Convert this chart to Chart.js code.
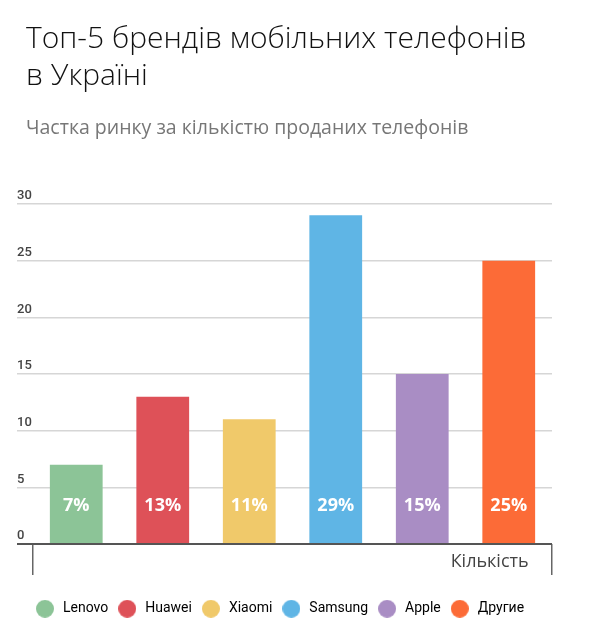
<!DOCTYPE html>
<html>
<head>
<meta charset="utf-8">
<script src="https://cdn.jsdelivr.net/npm/chart.js@4"></script>
<style>
  html, body { margin: 0; padding: 0; background: #fff; }
  #wrap { width: 600px; height: 634px; }
</style>
</head>
<body>
<div id="wrap"><canvas id="brandsChart"></canvas></div>
<script>
// data
const brands = ['Lenovo', 'Huawei', 'Xiaomi', 'Samsung', 'Apple', 'Другие'];
const shares = [7, 13, 11, 29, 15, 25];
const barColors = ['#8cc497', '#de5158', '#f0c96a', '#5fb5e5', '#a98dc4', '#fc6b37'];
const yTicks = [0, 5, 10, 15, 20, 25, 30];

// round legend markers (drawn as small canvases so the gap to the text can be set)
const legendDots = barColors.map(col => {
  const c = document.createElement('canvas');
  c.width = 18;
  c.height = 18;
  const g = c.getContext('2d');
  g.fillStyle = col;
  g.beginPath();
  g.arc(9, 9, 9, 0, Math.PI * 2);
  g.fill();
  return c;
});

//plugin that writes the % value inside each bar, near the bottom
const barValueLabels = {
  id: 'barValueLabels',
  afterDatasetsDraw(chart) {
    const {ctx} = chart;
    const yScale = chart.scales.y;
    const baseY = yScale.getPixelForValue(yTicks[0]) - 38;
    chart.getDatasetMeta(0).data.forEach((bar, i) => {
      ctx.save();
      ctx.fillStyle = '#ffffff';
      ctx.font = 'bold 18px "Open Sans"';
      ctx.textAlign = 'center';
      ctx.textBaseline = 'middle';
      ctx.fillText(shares[i] + '%', bar.x, baseY);
      ctx.restore();
    });
  }
};

// y labels sit a bit left of the titles
const shiftYLabels = {
  id: 'shiftYLabels',
  afterLayout(chart) {
    chart.scales.y.left = chart.chartArea.left - 16;
  }
};

const ctx = document.getElementById('brandsChart').getContext('2d');
new Chart(ctx, {
  type: 'bar',
  data: {
    labels: brands,
    datasets: [{
      label: 'Частка ринку',
      data: shares,
      backgroundColor: barColors,
      borderWidth: 0,
      categoryPercentage: 1,
      barPercentage: 0.61
    }]
  },
  options: {
    responsive: true,
    maintainAspectRatio: false,
    animation: false,
    layout: {
      padding: { left: 26, right: 10, top: 0, bottom: 8.3 }
    },
    plugins: {
      title: {
        display: true,
        text: ['Топ-5 брендів мобільних телефонів', 'в Україні'],
        align: 'start',
        color: '#111',
        font: { family: 'Open Sans', size: 30, weight: '300', lineHeight: 37 / 30 },
        padding: { top: 21, bottom: 0 }
      },
      subtitle: {
        display: true,
        text: 'Частка ринку за кількістю проданих телефонів',
        align: 'start',
        color: '#777',
        font: { family: 'Open Sans', size: 19.5, weight: 'normal', lineHeight: 22 / 19.5 },
        padding: { top: 22, bottom: 65 }
      },
      legend: {
        display: true,
        position: 'bottom',
        align: 'start',
        labels: {
          usePointStyle: true,
          pointStyleWidth: 22,
          boxHeight: 13,
          padding: 8,
          color: '#4a4a4a',
          font: { family: 'Roboto', size: 14 },
          // one legend entry per brand instead of per dataset
          generateLabels: () => brands.map((b, i) => ({
            text: b,
            fillStyle: barColors[i],
            strokeStyle: barColors[i],
            lineWidth: 0,
            pointStyle: legendDots[i],
            hidden: false,
            index: i
          }))
        }
      },
      tooltip: { enabled: false }
    },
    scales: {
      x: {
        border: { display: false },
        grid: {
          display: true,
          drawOnChartArea: false,
          drawTicks: true,
          tickLength: 31,
          lineWidth: 1.5,
          // only the two outer ticks are visible
          color: (c) => (c.type === 'scale' || c.index === 0) ? '#666' : 'rgba(0,0,0,0)'
        },
        ticks: { display: false },
        title: {
          display: true,
          text: 'Кількість     ',
          align: 'end',
          color: '#444',
          font: { family: 'Open Sans', size: 18, lineHeight: 22 / 18 },
          padding: { top: -24, bottom: 20.7 }
        }
      },
      y: {
        min: yTicks[0],
        max: yTicks[yTicks.length - 1],
        border: { display: false },
        afterFit: (scale) => { scale.width = 7; },
        afterBuildTicks: (scale) => { scale.ticks = yTicks.map(v => ({ value: v })); },
        grid: {
          drawTicks: true,
          tickLength: 16,
          color: (c) => c.tick && c.tick.value === 0 ? '#555' : '#d6d6d6',
          lineWidth: (c) => c.tick && c.tick.value === 0 ? 2 : 1.5
        },
        ticks: {
          crossAlign: 'far',
          labelOffset: -8,
          color: '#444',
          font: { family: 'Roboto', size: 13, weight: '500' }
        }
      },
      // empty right-hand axis: keeps the plot narrow while the legend uses the full width
      yRight: {
        position: 'right',
        display: true,
        border: { display: false },
        grid: { display: false },
        ticks: { display: false },
        afterFit: (scale) => { scale.width = 38; }
      }
    }
  },
  plugins: [barValueLabels, shiftYLabels]
});
</script>
</body>
</html>
